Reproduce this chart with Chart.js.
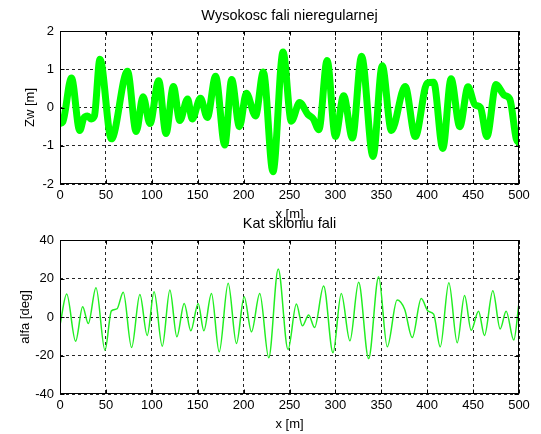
<!DOCTYPE html>
<html>
<head>
<meta charset="utf-8">
<title>Fala nieregularna</title>
<script src="https://cdn.jsdelivr.net/npm/chart.js@4.4.1/dist/chart.umd.min.js"></script>
<style>
  html, body { margin: 0; padding: 0; background: #fff; }
  #wrap { position: relative; width: 541px; height: 434px; }
  #wrap canvas { position: absolute; left: 0; top: 0; }
</style>
</head>
<body>
<div id="wrap">
  <canvas id="zwChart" width="541" height="434"></canvas>
  <canvas id="alfaChart" width="541" height="434"></canvas>
</div>
<script>
/* ---------- dane: wysokosc fali Zw [m] ---------- */
const zwX = [0, 3, 12.5, 21.5, 26, 30, 34, 37.5, 43.5, 56, 73.5, 83, 90.5, 98, 107.5, 115.5, 123.5, 130.5,
  139, 144, 153, 160.5, 169.5, 179.5, 187, 195.5, 203, 213, 221.5, 232, 243, 252, 261, 270, 276, 282,
  291, 300, 309, 318.5, 328.5, 341, 351, 361, 376, 387, 400, 407, 417, 426, 435.5, 444.5, 452, 458,
  465, 475, 484, 490, 497, 500];
const zwY = [-0.42, -0.38, 0.77, -0.6, -0.27, -0.22, -0.3, -0.22, 1.26, -0.82, 0.95, -0.63, 0.28, -0.42, 0.7, -0.68, 0.55, -0.34,
  0.22, -0.3, 0.24, -0.26, 0.82, -0.98, 0.73, -0.5, 0.37, -0.22, 0.93, -1.68, 1.45, -0.36, 0.13, -0.18, -0.3, -0.58,
  1.23, -0.76, 0.31, -0.8, 1.34, -1.28, 1.09, -0.6, 0.55, -0.76, 0.64, 0.66, -1.07, 0.75, -0.5, 0.54, 0.07, 0.0,
  -0.76, 0.6, 0.32, 0.22, -0.82, -0.92];

/* ---------- dane: kat skloniu fali alfa [deg] ---------- */
const alfaX = [0, 7.3, 17, 24.7, 30.8, 39.2, 49, 56, 62, 68.9, 78, 87, 95, 102.5, 111.4, 119.7, 127.3, 135.3,
  142.5, 150.5, 156.7, 165, 173.4, 183.2, 192.2, 200.6, 208.6, 217.6, 227.4, 237.7, 248.4, 257.5, 264,
  270.9, 277.3, 287.2, 297.4, 306.4, 315.8, 325.3, 336.2, 347.1, 356.5, 367.2, 375.4, 383.7, 393.5, 401,
  407, 414.2, 423.6, 432.7, 440.7, 447.9, 455.9, 462.4, 471.5, 479.5, 486, 494.3, 500];
const alfaY = [-4.2, 11.9, -12.6, 5.3, -3.4, 15.2, -17.3, 3.2, 4.2, 12.8, -15.9, 11.7, -9.6, 13.1, -15.2, 14, -10.3, 7,
  -7.2, 7, -7.2, 12.2, -18.1, 17.5, -13.8, 10.5, -7.7, 12.2, -21.2, 24.9, -16.9, 6.7, -4.6,
  1, -5.5, 16.1, -18.6, 12.2, -12.4, 18, -21.6, 20.9, -15.5, 8.8, 4, -10.7, 9.6, 3,
  1.5, -15.5, 17.8, -13.4, 11.2, -6.9, 3, -9.6, 13.6, -6.2, 3, -12, 7.4];

/* ---------- osie ---------- */
const xTicksMin = 0, xTicksMax = 500, xStep = 50;
const zwRange = [-2, 2], zwStep = 1;
const alfaRange = [-40, 40], alfaStep = 20;

Chart.defaults.font.family = '"Liberation Sans", Arial, sans-serif';
Chart.defaults.font.size = 13;
Chart.defaults.color = '#000';

const toPoints = (xs, ys) => xs.map((x, i) => ({ x: x, y: ys[i] }));

// ramka wykresu + male znaczniki do srodka (jak w MATLABie)
const framePlugin = {
  id: 'frame',
  afterDatasetsDraw(chart) {
    const { ctx, chartArea: a, scales } = chart;
    const L = Math.round(a.left) + 0.5, R = Math.round(a.right) - 0.5;
    const T = Math.round(a.top) + 0.5, B = Math.round(a.bottom) - 0.5;
    ctx.save();
    ctx.strokeStyle = '#000';
    ctx.lineWidth = 1;
    ctx.strokeRect(L, T, R - L, B - T);
    ctx.beginPath();
    scales.x.ticks.forEach(t => {
      const px = Math.round(scales.x.getPixelForValue(t.value)) + 0.5;
      ctx.moveTo(px, T); ctx.lineTo(px, T + 4);
      ctx.moveTo(px, B); ctx.lineTo(px, B - 4);
    });
    scales.y.ticks.forEach(t => {
      const py = Math.round(scales.y.getPixelForValue(t.value)) + 0.5;
      ctx.moveTo(L, py); ctx.lineTo(L + 4, py);
      ctx.moveTo(R, py); ctx.lineTo(R - 4, py);
    });
    ctx.stroke();
    ctx.restore();
  }
};

function makeScales(yRange, yStep, yTitle, yTitlePad) {
  return {
    x: {
      type: 'linear', min: xTicksMin, max: xTicksMax,
      ticks: { stepSize: xStep, padding: 4, maxRotation: 0, autoSkip: false },
      grid: { color: 'rgba(0,0,0,0.85)', drawTicks: false },
      border: { display: false, dash: [3, 3] },
      title: { display: true, text: 'x [m]', padding: { top: 0, bottom: 2 } },
      afterFit: s => { s.height = 40; }
    },
    y: {
      type: 'linear', min: yRange[0], max: yRange[1],
      ticks: { stepSize: yStep, padding: 6 },
      grid: { color: 'rgba(0,0,0,0.85)', drawTicks: false },
      border: { display: false, dash: [3, 3] },
      title: { display: true, text: yTitle, padding: { top: yTitlePad, bottom: 0 } },
      afterFit: s => { s.width = 60; }
    }
  };
}

function makeTitle(text, padTop, padBottom) {
  return {
    display: true, text: text, fullSize: false, color: '#000',
    font: { size: 14.5, weight: 'normal' },
    padding: { top: padTop, bottom: padBottom }
  };
}

// wykres 1: wysokosc fali
new Chart(document.getElementById('zwChart'), {
  type: 'line',
  data: {
    datasets: [{
      data: toPoints(zwX, zwY),
      borderColor: '#00ff00', borderWidth: 7,
      borderJoinStyle: 'round', borderCapStyle: 'round',
      pointRadius: 0, cubicInterpolationMode: 'monotone', fill: false
    }]
  },
  options: {
    responsive: false, animation: false,
    layout: { padding: { left: 0, right: 22, top: 0, bottom: 210 } },
    scales: makeScales(zwRange, zwStep, 'Zw [m]', 23),
    plugins: {
      legend: { display: false }, tooltip: { enabled: false },
      title: makeTitle('Wysokosc fali nieregularnej', 7, 6.6)
    }
  },
  plugins: [framePlugin]
});

// wykres 2: kat skloniu fali
new Chart(document.getElementById('alfaChart'), {
  type: 'line',
  data: {
    datasets: [{
      data: toPoints(alfaX, alfaY),
      borderColor: '#22ee22', borderWidth: 1.5,
      pointRadius: 0, cubicInterpolationMode: 'monotone', fill: false
    }]
  },
  options: {
    responsive: false, animation: false,
    layout: { padding: { left: 0, right: 22, top: 208, bottom: 0 } },
    scales: makeScales(alfaRange, alfaStep, 'alfa [deg]', 18),
    plugins: {
      legend: { display: false }, tooltip: { enabled: false },
      title: makeTitle('Kat skloniu fali', 7, 7.6)
    }
  },
  plugins: [framePlugin]
});
</script>
</body>
</html>
